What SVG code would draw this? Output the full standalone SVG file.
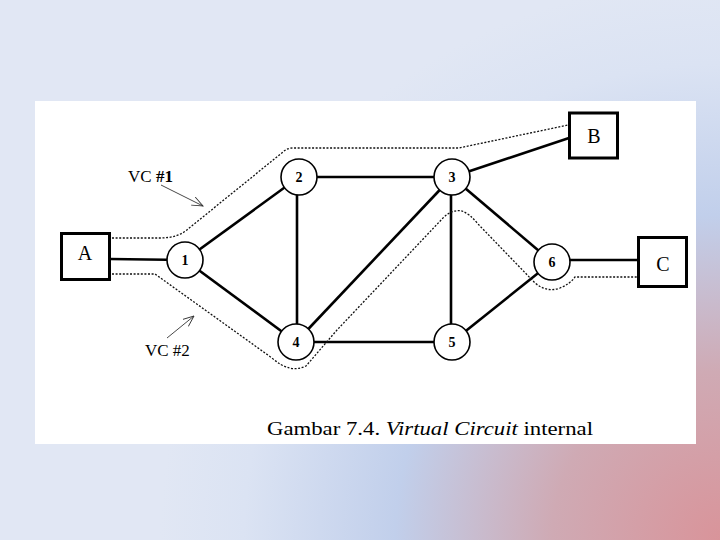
<svg xmlns="http://www.w3.org/2000/svg" width="720" height="540" viewBox="0 0 720 540">
<defs>
<radialGradient id="bgp" cx="720" cy="540" r="560" gradientUnits="userSpaceOnUse">
<stop offset="0" stop-color="#d9949a"/>
<stop offset="0.3" stop-color="#cfaab4"/>
<stop offset="0.58" stop-color="#c1cfeb"/>
<stop offset="0.85" stop-color="#dbe3f3"/>
<stop offset="1" stop-color="#e1e7f4"/>
</radialGradient>
<marker id="oa" viewBox="0 0 12 10" refX="11" refY="5" markerWidth="12" markerHeight="10" markerUnits="userSpaceOnUse" orient="auto">
<path d="M0,0.5 L11,5 L0,9.5" fill="none" stroke="#333" stroke-width="0.9"/>
</marker>
<style>
.edge{stroke:#000;stroke-width:2.6;fill:none}
.vc{stroke:#111;stroke-width:1.3;stroke-dasharray:2 1.6;fill:none}
.node circle{fill:#fff;stroke:#000;stroke-width:1.6}
.node text{font-family:"Liberation Serif",serif;font-size:14px;font-weight:bold;text-anchor:middle}
.box rect{fill:#fff;stroke:#000;stroke-width:3}
.box text{font-family:"Liberation Serif",serif;font-size:20px;text-anchor:middle}
.lbl{font-family:"Liberation Serif",serif;font-size:17px}
.ptr{stroke:#333;stroke-width:0.9;fill:none}
</style>
</defs>
<rect width="720" height="540" fill="url(#bgp)"/>
<rect x="35" y="101" width="661" height="343" fill="#fff"/>

<g id="connectors">
<line class="edge" x1="110" y1="259" x2="185" y2="260"/>
<line class="edge" x1="185" y1="260" x2="299" y2="177"/>
<line class="edge" x1="185" y1="260" x2="296" y2="342"/>
<line class="edge" x1="299" y1="177" x2="452" y2="177"/>
<line class="edge" x1="297" y1="177" x2="297" y2="342"/>
<line class="edge" x1="452" y1="177" x2="296" y2="342"/>
<line class="edge" x1="451" y1="177" x2="451" y2="342"/>
<line class="edge" x1="452" y1="177" x2="552" y2="262"/>
<line class="edge" x1="452" y1="177" x2="569" y2="138"/>
<line class="edge" x1="296" y1="342" x2="452" y2="342"/>
<line class="edge" x1="452" y1="342" x2="552" y2="262"/>
<line class="edge" x1="552" y1="260" x2="638" y2="260"/>
<path class="vc" d="M112,238 L160,238 Q178,238 188,229 L283,152 Q287,148 293,148 L459,148 L568,125"/>
<path class="vc" d="M112,274 L155,274 L272,358 Q290,374 306,366 L337,330 L443,218 Q452,209 462,211 Q470,214 478,224 L535,283 Q547,293 560,288 Q570,284 575,277 L637,277"/>
<line class="ptr" x1="161" y1="185" x2="203" y2="206" marker-end="url(#oa)"/>
<line class="ptr" x1="167" y1="338" x2="194" y2="316" marker-end="url(#oa)"/>
</g>

<g id="node-A" class="box"><rect x="61.5" y="233.5" width="48" height="46"/><text x="85" y="260">A</text></g>
<g id="node-B" class="box"><rect x="569.5" y="113" width="48" height="45"/><text x="594" y="143">B</text></g>
<g id="node-C" class="box"><rect x="638.5" y="237.5" width="48" height="49"/><text x="663" y="271">C</text></g>

<g id="node-1" class="node"><circle cx="185" cy="260" r="18"/><text x="185" y="265">1</text></g>
<g id="node-2" class="node"><circle cx="299" cy="177" r="18"/><text x="299" y="182">2</text></g>
<g id="node-3" class="node"><circle cx="452" cy="177" r="18"/><text x="452" y="182">3</text></g>
<g id="node-4" class="node"><circle cx="296" cy="342" r="18"/><text x="296" y="347">4</text></g>
<g id="node-5" class="node"><circle cx="452" cy="342" r="18"/><text x="452" y="347">5</text></g>
<g id="node-6" class="node"><circle cx="552" cy="262" r="18"/><text x="552" y="267">6</text></g>

<g id="labels">
<text class="lbl" x="128" y="182">VC <tspan font-weight="bold">#1</tspan></text>
<text class="lbl" x="145" y="356">VC #2</text>
<text x="267" y="435" font-family="Liberation Serif, serif" font-size="19" textLength="326" lengthAdjust="spacingAndGlyphs">Gambar 7.4. <tspan font-style="italic">Virtual Circuit</tspan> internal</text>
</g>
</svg>
